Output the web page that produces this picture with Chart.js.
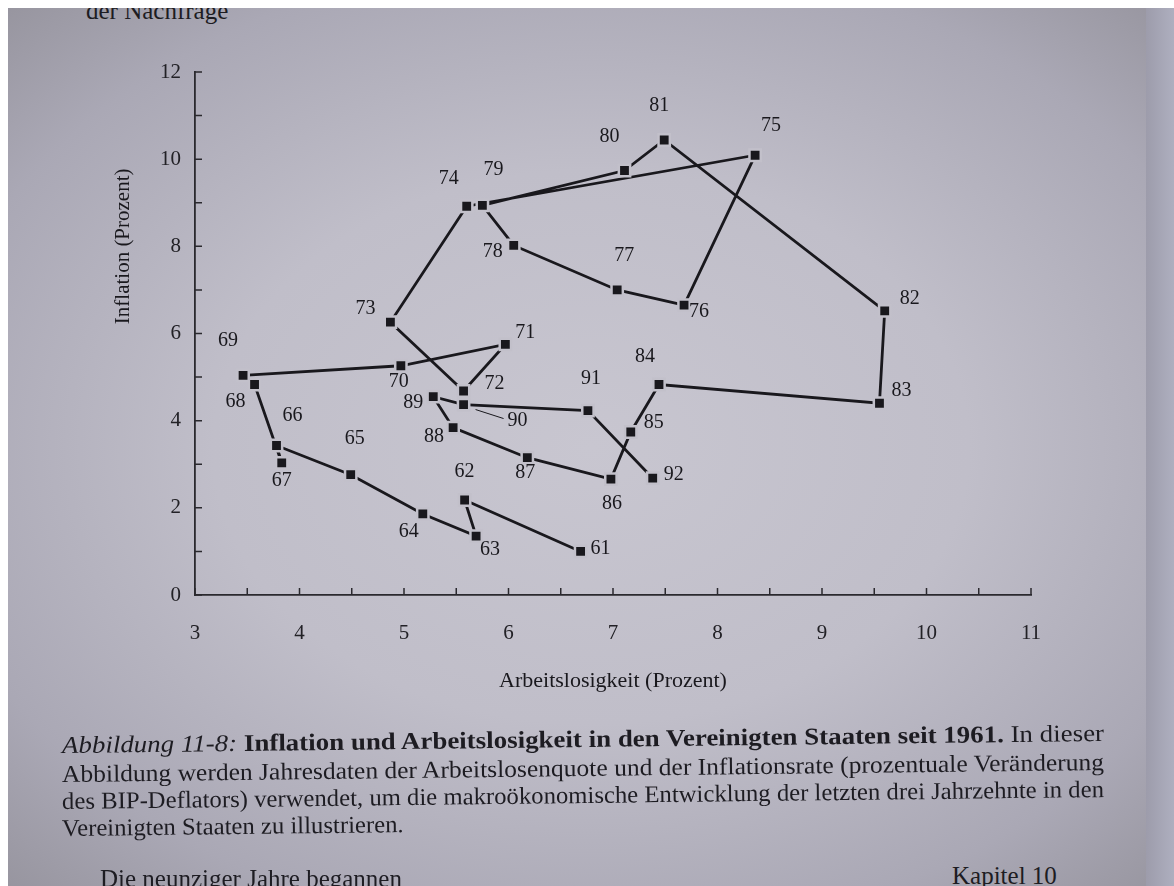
<!DOCTYPE html>
<html lang="de">
<head>
<meta charset="utf-8">
<title>Inflation und Arbeitslosigkeit</title>
<script src="https://cdn.jsdelivr.net/npm/chart.js@4.4.1/dist/chart.umd.min.js"></script>
<style>
    html, body { margin: 0; padding: 0; background: #fff; }
    body { width: 1174px; height: 886px; overflow: hidden; position: relative; font-family: "Liberation Serif", "DejaVu Serif", serif; color: #1d1c22; }
    #paper {
        position: absolute; left: 8px; top: 8px; right: 0; bottom: 0; overflow: hidden;
        background: radial-gradient(ellipse 72% 70% at 50% 50%, #c8c6d0 0%, #c0bec9 45%, #aaa8b5 80%, #97959f 100%);
    }
    #edge { position: absolute; left: 1146px; top: 8px; width: 28px; bottom: 0; background: linear-gradient(to right, #9d9cab, #aeafbf); }
    #chartBox { position: absolute; left: 0; top: 0; width: 1174px; height: 720px; }
    .txt { position: absolute; white-space: nowrap; transform-origin: 0 50%; }
    .cap { left: 62px; font-size: 24px; }
</style>
</head>
<body>
<div id="paper">
    <div class="txt" style="left:78px; top:-11px; font-size:25px;">der Nachfrage</div>
</div>
<div id="edge"></div>
<div id="chartBox"><canvas id="phillipsChart"></canvas></div>

<div class="txt cap" data-w="1042" style="top:732px;"><i>Abbildung 11-8:</i> <b>Inflation und Arbeitslosigkeit in den Vereinigten Staaten seit 1961.</b> In dieser</div>
<div class="txt cap" data-w="1042" style="top:761px;">Abbildung werden Jahresdaten der Arbeitslosenquote und der Inflationsrate (prozentuale Veränderung</div>
<div class="txt cap" data-w="1042" style="top:788px;">des BIP-Deflators) verwendet, um die makroökonomische Entwicklung der letzten drei Jahrzehnte in den</div>
<div class="txt cap" style="top:815px;">Vereinigten Staaten zu illustrieren.</div>
<div class="txt" style="left:100px; top:865px; font-size:25px;">Die neunziger Jahre begannen</div>
<div class="txt" style="left:952px; top:862px; font-size:25px;">Kapitel 10</div>

<script>
// Jahresdaten USA 1961-1992 (Arbeitslosenquote, Inflation BIP-Deflator)
const years = ['61', '62', '63', '64', '65', '66', '67', '68', '69', '70',
               '71', '72', '73', '74', '75', '76', '77', '78', '79', '80',
               '81', '82', '83', '84', '85', '86', '87', '88', '89', '90',
               '91', '92'];
const unemployment = [6.69, 5.58, 5.69, 5.18, 4.49, 3.78, 3.83, 3.57, 3.46, 4.97,
                      5.97, 5.57, 4.87, 5.60, 8.36, 7.68, 7.04, 6.05, 5.75, 7.11,
                      7.49, 9.60, 9.55, 7.44, 7.17, 6.98, 6.18, 5.47, 5.28, 5.57,
                      6.76, 7.38];
const inflation = [1.00, 2.18, 1.35, 1.86, 2.76, 3.43, 3.03, 4.83, 5.04, 5.26,
                   5.75, 4.68, 6.26, 8.92, 10.09, 6.65, 7.00, 8.02, 8.94, 9.74,
                   10.44, 6.52, 4.40, 4.83, 3.74, 2.66, 3.15, 3.84, 4.55, 4.37,
                   4.23, 2.68];

// Achsenbeschriftungen
const xTickLabels = [3, 4, 5, 6, 7, 8, 9, 10, 11];
const yTickLabels = [0, 2, 4, 6, 8, 10, 12];

// Lage der Jahreszahl relativ zum Punkt (nur Stil, keine Daten)
const labelOffsets = {
    '61': [20, -3], '62': [0, -28], '63': [14, 14], '64': [-14, 18], '65': [4, -36],
    '66': [16, -30], '67': [0, 18], '68': [-19, 17], '69': [-15, -35], '70': [-2, 16],
    '71': [20, -12], '72': [31, -7], '73': [-25, -13], '74': [-18, -27], '75': [16, -29],
    '76': [15, 7], '77': [7, -34], '78': [-21, 6], '79': [11, -36], '80': [-15, -34],
    '81': [-5, -34], '82': [25, -12], '83': [22, -12], '84': [-14, -28], '85': [23, -9],
    '86': [1, 25], '87': [-2, 15], '88': [-19, 9], '89': [-20, 6], '90': [54, 16],
    '91': [3, -32], '92': [21, -3]
};

const ink = '#19181d';
const paperColor = '#c2c0ca';
const serif = '"Liberation Serif", "DejaVu Serif", serif';

const points = years.map((yr, i) => ({ x: unemployment[i], y: inflation[i] }));

// Ticks point into the plot, like in the book
const innerTicks = {
    id: 'innerTicks',
    beforeDatasetsDraw(chart) {
        const { ctx, chartArea, scales: { x, y } } = chart;
        ctx.save();
        ctx.strokeStyle = '#2a292e';
        ctx.lineWidth = 1.5;
        ctx.beginPath();
        x.ticks.forEach(t => {
            const px = x.getPixelForValue(t.value);
            ctx.moveTo(px, chartArea.bottom);
            ctx.lineTo(px, chartArea.bottom - 7);
        });
        y.ticks.forEach(t => {
            const py = y.getPixelForValue(t.value);
            ctx.moveTo(chartArea.left, py);
            ctx.lineTo(chartArea.left + 7, py);
        });
        ctx.stroke();
        ctx.restore();
    }
};

// Year labels next to the squares
const yearLabels = {
    id: 'yearLabels',
    afterDatasetsDraw(chart) {
        const { ctx } = chart;
        const meta = chart.getDatasetMeta(0);
        ctx.save();
        ctx.font = '20px ' + serif;
        ctx.fillStyle = ink;
        ctx.textAlign = 'center';
        ctx.textBaseline = 'middle';
        meta.data.forEach((pt, i) => {
            const off = labelOffsets[years[i]] || [0, -20];
            ctx.fillText(years[i], pt.x + off[0], pt.y + off[1]);
            if (years[i] === '90') {
                ctx.beginPath();
                ctx.lineWidth = 1;
                ctx.strokeStyle = ink;
                ctx.moveTo(pt.x + 12, pt.y + 5);
                ctx.lineTo(pt.x + 40, pt.y + 14);
                ctx.stroke();
            }
        });
        ctx.restore();
    }
};

// Rotated y title, sitting a bit above the middle
const yTitle = {
    id: 'yTitle',
    afterDraw(chart) {
        const { ctx, chartArea, scales: { y } } = chart;
        ctx.save();
        ctx.translate(chartArea.left - 72, y.getPixelForValue(8));
        ctx.rotate(-Math.PI / 2);
        ctx.font = '21px ' + serif;
        ctx.fillStyle = ink;
        ctx.textAlign = 'center';
        ctx.textBaseline = 'middle';
        ctx.fillText('Inflation (Prozent)', 0, 0);
        ctx.restore();
    }
};

const ctx = document.getElementById('phillipsChart').getContext('2d');
new Chart(ctx, {
    type: 'scatter',
    data: {
        datasets: [{
            data: points,
            showLine: true,
            borderColor: ink,
            borderWidth: 2.8,
            pointStyle: 'rect',
            pointRadius: 8,
            pointBackgroundColor: ink,
            pointBorderColor: paperColor,
            pointBorderWidth: 2.5
        }]
    },
    options: {
        responsive: true,
        maintainAspectRatio: false,
        animation: false,
        events: [],
        layout: { padding: { left: 90, top: 72, right: 143, bottom: 0 } },
        plugins: {
            legend: { display: false },
            tooltip: { enabled: false }
        },
        scales: {
            x: {
                type: 'linear',
                min: 3,
                max: 11,
                afterFit: scale => { scale.height = 125; },
                grid: { display: false, drawTicks: false },
                border: { display: true, color: '#2a292e', width: 1.8 },
                ticks: {
                    stepSize: 0.5,
                    autoSkip: false,
                    maxRotation: 0,
                    padding: 26,
                    color: '#222126',
                    font: { family: serif, size: 21 },
                    callback: v => xTickLabels.includes(v) ? String(v) : ''
                },
                title: {
                    display: true,
                    text: 'Arbeitslosigkeit (Prozent)',
                    color: ink,
                    font: { family: serif, size: 22 },
                    padding: { top: 0, bottom: 26 }
                }
            },
            y: {
                type: 'linear',
                min: 0,
                max: 12,
                afterFit: scale => { scale.width = 105; },
                grid: { display: false, drawTicks: false },
                border: { display: true, color: '#2a292e', width: 1.8 },
                ticks: {
                    stepSize: 1,
                    autoSkip: false,
                    padding: 14,
                    color: '#222126',
                    font: { family: serif, size: 21 },
                    callback: v => yTickLabels.includes(v) ? String(v) : ''
                }
            }
        }
    },
    plugins: [innerTicks, yearLabels, yTitle]
});

// Fit the caption lines to the justified width of the print
let lastScale = 1;
document.querySelectorAll('.cap').forEach(el => {
    const w = el.getBoundingClientRect().width;
    const target = el.dataset.w ? +el.dataset.w : null;
    const s = target ? target / w : lastScale;
    lastScale = s;
    el.style.transform = `rotate(-0.66deg) scaleX(${s.toFixed(4)})`;
});
</script>
</body>
</html>
